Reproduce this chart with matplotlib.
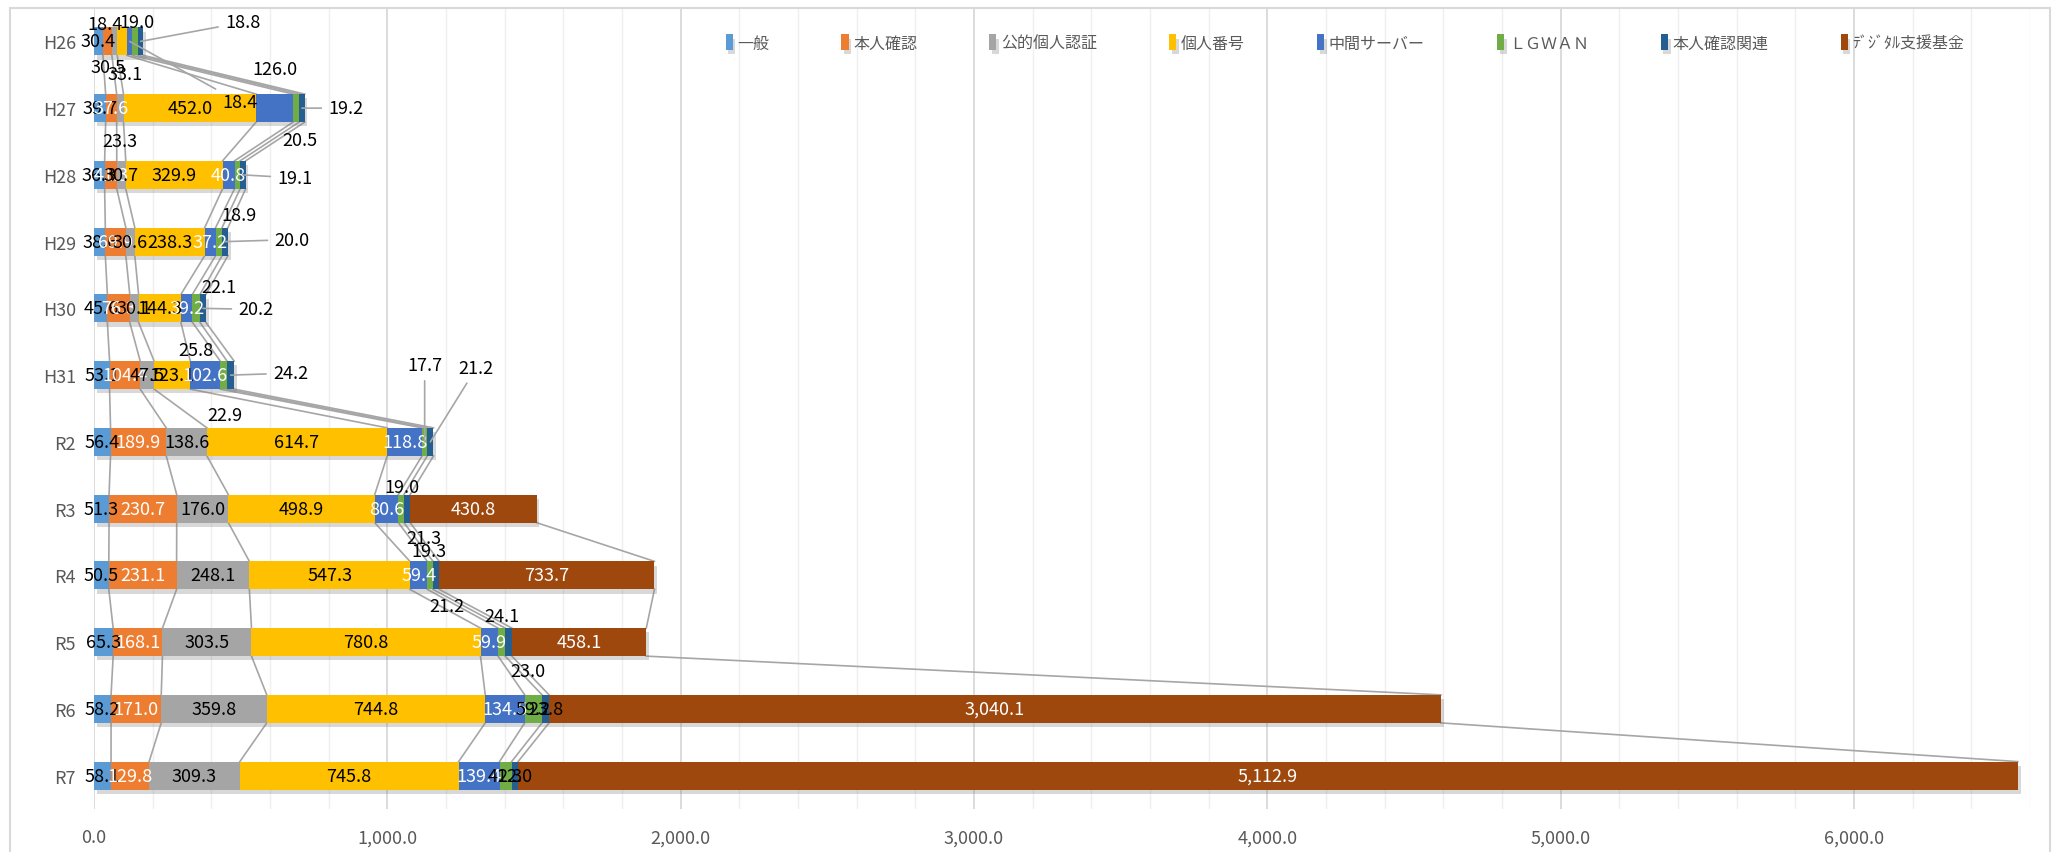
import matplotlib
matplotlib.use("Agg")
import matplotlib.pyplot as plt
import matplotlib.patheffects as pe
from matplotlib.patches import Rectangle
from matplotlib.ticker import MultipleLocator, FuncFormatter
import numpy as np

plt.rcParams['font.family'] = ['Noto Sans CJK JP', 'DejaVu Sans']

# categories
years = ["H26", "H27", "H28", "H29", "H30", "H31", "R2", "R3", "R4", "R5", "R6", "R7"]
series_names = ["一般", "本人確認", "公的個人認証", "個人番号", "中間サーバー",
                "ＬＧＷＡＮ", "本人確認関連", "ﾃﾞｼﾞﾀﾙ支援基金"]

# values per series (NaN = no bar that year)
ippan = [30.4, 39.7, 36.3, 38.6, 45.6, 53.1, 56.4, 51.3, 50.5, 65.3, 58.2, 58.1]
honnin = [30.5, 37.6, 41.3, 69.9, 76.3, 104.4, 189.9, 230.7, 231.1, 168.1, 171.0, 129.8]
koteki = [18.4, 23.3, 30.7, 30.6, 30.1, 47.5, 138.6, 176.0, 248.1, 303.5, 359.8, 309.3]
kojin = [33.1, 452.0, 329.9, 238.3, 144.3, 123.1, 614.7, 498.9, 547.3, 780.8, 744.8, 745.8]
chukan = [18.4, 126.0, 40.8, 37.2, 39.2, 102.6, 118.8, 80.6, 59.4, 59.9, 134.5, 139.4]
lgwan = [19.0, 20.5, 18.9, 22.1, 25.8, 22.9, 17.7, 19.0, 19.3, 24.1, 59.2, 41.3]
kanren = [18.8, 19.2, 19.1, 20.0, 20.2, 24.2, 21.2, 21.3, 21.2, 23.0, 23.8, 22.0]
digital = [np.nan] * 7 + [430.8, 733.7, 458.1, 3040.1, 5112.9]

all_series = [ippan, honnin, koteki, kojin, chukan, lgwan, kanren, digital]
colors = ["#5B9BD5", "#ED7D31", "#A5A5A5", "#FFC000", "#4472C4",
          "#70AD47", "#255E91", "#9E480E"]
label_colors = ["black", "white", "black", "black", "white", "black", "black", "white"]

# data labels that were dragged off their bar: (series, year) -> pixel offset (dx, dy down)
moved = {
    (1, 0): (1, 26), (2, 0): (-10, -17), (3, 0): (3, 33), (4, 0): (110, 61),
    (5, 0): (2, -19), (6, 0): (102, -19),
    (2, 1): (0, 33), (4, 1): (0, -39), (5, 1): (4, 32), (6, 1): (44, 0),
    (5, 2): (2, 40), (6, 2): (52, 3),
    (5, 3): (0, 45), (6, 3): (67, -2),
    (5, 4): (0, 42), (6, 4): (53, 1),
    (5, 5): (1, 40), (6, 5): (60, -2),
    (5, 6): (0, -77), (6, 6): (46, -74),
    (5, 7): (1, -22), (6, 7): (17, 29),
    (5, 8): (-1, -24), (6, 8): (11, 31),
    (5, 9): (0, -26), (6, 9): (19, 29),
}

fig = plt.figure(figsize=(20.67, 8.53), dpi=100)
ax = fig.add_axes([94 / 2067, 43 / 853, 1936 / 2067, 801 / 853])

y = np.arange(len(years))
h = 0.42
left = np.zeros(len(years))
shadow = [pe.SimplePatchShadow(offset=(2, -3), shadow_rgbFace="#7f7f7f", alpha=0.3), pe.Normal()]

for si, (name, vals, col) in enumerate(zip(series_names, all_series, colors)):
    v = np.array(vals, dtype=float)
    ok = ~np.isnan(v)
    ax.barh(y[ok], v[ok], left=left[ok], height=h, color=col, label=name,
            zorder=3, path_effects=shadow)
    ends = left + np.nan_to_num(v)
    # series lines between consecutive bars
    for i in range(len(years) - 1):
        if ok[i] and ok[i + 1]:
            ax.plot([ends[i], ends[i + 1]], [y[i] + h / 2, y[i + 1] - h / 2],
                    color="#a6a6a6", lw=1.2, zorder=2)
    # data labels
    for i in np.where(ok)[0]:
        dx, dy = moved.get((si, i), (0, 0))
        lc = label_colors[si] if (dx, dy) == (0, 0) else "black"
        arrow = None
        if abs(dx) > 40 or abs(dy) > 60:
            arrow = dict(arrowstyle="-", color="#a6a6a6", lw=1.2, shrinkA=3, shrinkB=0)
        ax.annotate(f"{v[i]:,.1f}", xy=(left[i] + v[i] / 2, y[i]), xytext=(dx, -dy),
                    textcoords="offset pixels", ha="center", va="center",
                    fontsize=13, color=lc, zorder=6, arrowprops=arrow)
    left = ends

ax.set_ylim(len(years) - 0.5, -0.5)
ax.set_xlim(0, 6600)
ax.set_yticks(y)
ax.set_yticklabels(years)
ax.xaxis.set_major_locator(MultipleLocator(1000))
ax.xaxis.set_minor_locator(MultipleLocator(200))
ax.xaxis.set_major_formatter(FuncFormatter(lambda x, p: f"{x:,.1f}"))
ax.grid(which="major", axis="x", color="#d9d9d9", lw=1.3)
ax.grid(which="minor", axis="x", color="#efefef", lw=1.0)
ax.set_axisbelow(True)
for s in ax.spines.values():
    s.set_visible(False)
ax.tick_params(axis="both", which="both", length=0, labelcolor="#595959", labelsize=13)
ax.tick_params(axis="x", pad=14)
ax.tick_params(axis="y", pad=13)

ax.legend(loc="center", bbox_to_anchor=(1345 / 2067, 1 - 44 / 853),
          bbox_transform=fig.transFigure, ncol=8, frameon=False, fontsize=11.5,
          handlelength=0.45, handleheight=1.1, handletextpad=0.3, columnspacing=4.5,
          labelcolor="#595959")

# chart frame
fig.add_artist(Rectangle((10 / 2067, -0.05), 2040 / 2067, 1.05 - 9 / 853,
                         transform=fig.transFigure, fill=False, ec="#d9d9d9", lw=1.5))

fig.savefig("out.png", dpi=100)
